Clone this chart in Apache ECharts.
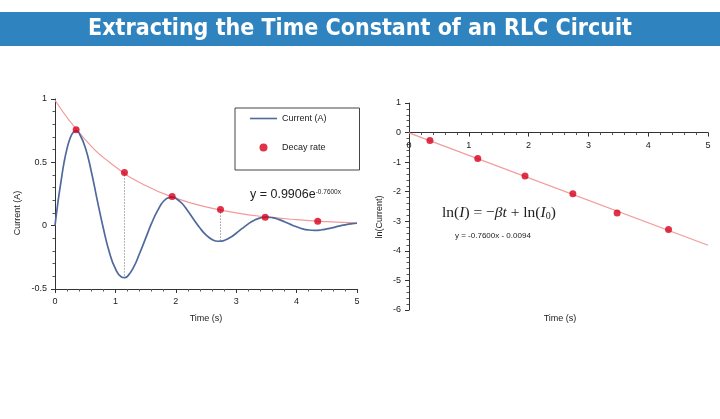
<!DOCTYPE html>
<html>
<head>
<meta charset="utf-8">
<script src="https://cdn.jsdelivr.net/npm/echarts@6/dist/echarts.min.js"></script>
<style>
  html, body { margin: 0; padding: 0; background: #fff; }
  #main { width: 720px; height: 419px; }
</style>
</head>
<body>
<div id="main"></div>
<script>
// values
var timeS = [0, 0.05, 0.1, 0.15, 0.2, 0.25, 0.3, 0.35, 0.4, 0.5, 0.6, 0.7, 0.8, 0.9, 1.0, 1.1, 1.15, 1.2, 1.3, 1.4, 1.5,
  1.6, 1.7, 1.8, 1.9, 1.95, 2.0, 2.1, 2.2, 2.3, 2.4, 2.5, 2.6, 2.7, 2.75, 2.8, 2.9, 3.0, 3.1, 3.2, 3.3, 3.4, 3.5,
  3.6, 3.7, 3.8, 3.9, 4.0, 4.1, 4.2, 4.3, 4.4, 4.5, 4.6, 4.7, 4.8, 4.9, 5.0];
var currentA = [0, 0.19, 0.35, 0.5, 0.61, 0.69, 0.735, 0.75, 0.73, 0.62, 0.43, 0.2, -0.02, -0.21, -0.34, -0.405, -0.41, -0.4, -0.33, -0.22, -0.1,
  0.02, 0.12, 0.195, 0.223, 0.225, 0.216, 0.177, 0.116, 0.047, -0.019, -0.073, -0.109, -0.123, -0.122, -0.117, -0.094, -0.06, -0.022, 0.014, 0.043, 0.061, 0.068,
  0.063, 0.05, 0.031, 0.01, -0.009, -0.025, -0.034, -0.037, -0.034, -0.026, -0.016, -0.004, 0.006, 0.014, 0.019];

var fitT = [0, 0.5, 1, 1.5, 2, 2.5, 3, 3.5, 4, 4.5, 5];
var fitI = [0.99, 0.68, 0.465, 0.317, 0.217, 0.148, 0.101, 0.069, 0.047, 0.032, 0.022];

var decayT = [0.35, 1.15, 1.94, 2.74, 3.48, 4.35];
var decayI = [0.757, 0.42, 0.23, 0.127, 0.066, 0.034];

var troughT = [1.15, 2.74];
var troughI = [-0.41, -0.123];

var lnT = [0.35, 1.15, 1.94, 2.74, 3.48, 4.34];
var lnI = [-0.27, -0.88, -1.47, -2.07, -2.72, -3.28];

var lnFitT = [0, 5];
var lnFitY = [-0.0094, -3.81];

function pairs(xs, ys) {
  return xs.map(function (x, i) { return [x, ys[i]]; });
}

var labelFont = 'Liberation Sans';
var axisColor = '#333';

function axisBase(extra) {
  var a = {
    type: 'value',
    axisLine: { show: true, onZero: false, lineStyle: { color: axisColor, width: 1 } },
    axisTick: { show: true, length: 4, lineStyle: { color: axisColor } },
    minorTick: { show: true, splitNumber: 5, length: 2.5, lineStyle: { color: '#555' } },
    splitLine: { show: false },
    axisLabel: { color: '#222', fontSize: 9, fontFamily: labelFont }
  };
  for (var k in extra) a[k] = extra[k];
  return a;
}

var chart = echarts.init(document.getElementById('main'));

// right grid: the time axis sits on ln = 0, about 177px above the bottom edge
var rightTop = 103, rightHeight = 207, lnMin = -6, lnMax = 1;
var zeroOffset = -rightHeight * (0 - lnMin) / (lnMax - lnMin);

var option = {
  backgroundColor: '#fff',
  animation: false,
  grid: [
    { left: 55, top: 99, width: 302, height: 190 },
    { left: 409, top: rightTop, width: 299, height: rightHeight }
  ],
  xAxis: [
    axisBase({ gridIndex: 0, min: 0, max: 5, interval: 1 }),
    axisBase({ gridIndex: 1, min: 0, max: 5, interval: 1, position: 'bottom', offset: zeroOffset })
  ],
  yAxis: [
    axisBase({ gridIndex: 0, min: -0.5, max: 1, interval: 0.5 }),
    axisBase({ gridIndex: 1, min: lnMin, max: lnMax, interval: 1 })
  ],
  legend: {
    data: [
      { name: 'Current (A)', icon: 'path://M0,0 L27,0 L27,1.6 L0,1.6 Z' },
      { name: 'Decay rate', icon: 'circle' }
    ],
    orient: 'vertical',
    left: 235,
    top: 108,
    padding: [6, 33, 18, 15],
    itemGap: 20,
    itemWidth: 27,
    itemHeight: 8,
    borderColor: '#444',
    borderWidth: 1,
    textStyle: { fontSize: 9, color: '#222', fontFamily: labelFont }
  },
  series: [
    {
      name: 'fit',
      type: 'line',
      xAxisIndex: 0, yAxisIndex: 0,
      data: pairs(fitT, fitI),
      smooth: true,
      symbol: 'none',
      lineStyle: { color: '#f39a9a', width: 1.2 },
      z: 2
    },
    {
      name: 'Current (A)',
      type: 'line',
      xAxisIndex: 0, yAxisIndex: 0,
      data: pairs(timeS, currentA),
      smooth: true,
      symbol: 'none',
      color: '#50699c',
      lineStyle: { color: '#50699c', width: 1.7 },
      z: 3
    },
    {
      name: 'drop1',
      type: 'line',
      xAxisIndex: 0, yAxisIndex: 0,
      data: [[troughT[0], decayI[1]], [troughT[0], troughI[0]]],
      symbol: 'none',
      lineStyle: { color: '#444', width: 0.8, type: [1, 2] },
      z: 2
    },
    {
      name: 'drop2',
      type: 'line',
      xAxisIndex: 0, yAxisIndex: 0,
      data: [[troughT[1], decayI[3]], [troughT[1], troughI[1]]],
      symbol: 'none',
      lineStyle: { color: '#444', width: 0.8, type: [1, 2] },
      z: 2
    },
    {
      name: 'Decay rate',
      type: 'scatter',
      xAxisIndex: 0, yAxisIndex: 0,
      data: pairs(decayT, decayI),
      symbolSize: 7,
      itemStyle: { color: '#d6001c' },
      z: 4
    },
    {
      name: 'lnfit',
      type: 'line',
      xAxisIndex: 1, yAxisIndex: 1,
      data: pairs(lnFitT, lnFitY),
      symbol: 'none',
      lineStyle: { color: '#f39a9a', width: 1.2 },
      z: 2
    },
    {
      name: 'lnpoints',
      type: 'scatter',
      xAxisIndex: 1, yAxisIndex: 1,
      data: pairs(lnT, lnI),
      symbolSize: 7,
      itemStyle: { color: '#d6001c' },
      z: 4
    }
  ],
  graphic: [
    {
      type: 'rect',
      shape: { x: 0, y: 12, width: 720, height: 34 },
      style: { fill: '#2f84bf' }
    },
    {
      type: 'text',
      x: 360, y: 29,
      style: {
        text: 'Extracting the Time Constant of an RLC Circuit',
        fill: '#fff',
        font: 'bold 23px "DejaVu Sans Condensed"',
        textAlign: 'center', textVerticalAlign: 'middle',
        align: 'center', verticalAlign: 'middle'
      }
    },
    {
      type: 'text',
      x: 18, y: 213, rotation: Math.PI / 2,
      style: {
        text: 'Current (A)', fill: '#222', font: '9px "Liberation Sans"',
        textAlign: 'center', textVerticalAlign: 'middle', align: 'center', verticalAlign: 'middle'
      }
    },
    {
      type: 'text',
      x: 380, y: 217, rotation: Math.PI / 2,
      style: {
        text: 'ln(Current)', fill: '#222', font: '9px "Liberation Sans"',
        textAlign: 'center', textVerticalAlign: 'middle', align: 'center', verticalAlign: 'middle'
      }
    },
    {
      type: 'text',
      x: 206, y: 319,
      style: {
        text: 'Time (s)', fill: '#222', font: '9px "Liberation Sans"',
        textAlign: 'center', textVerticalAlign: 'middle', align: 'center', verticalAlign: 'middle'
      }
    },
    {
      type: 'text',
      x: 560, y: 319,
      style: {
        text: 'Time (s)', fill: '#222', font: '9px "Liberation Sans"',
        textAlign: 'center', textVerticalAlign: 'middle', align: 'center', verticalAlign: 'middle'
      }
    },
    {
      type: 'text',
      x: 250, y: 195,
      style: {
        text: '{m|y = 0.9906e}{s|-0.7600x}',
        textVerticalAlign: 'middle', verticalAlign: 'middle',
        rich: {
          m: { fontSize: 12.5, fontFamily: labelFont, fill: '#222', verticalAlign: 'bottom' },
          s: { fontSize: 6.5, fontFamily: labelFont, fill: '#222', verticalAlign: 'top' }
        }
      }
    },
    {
      type: 'text',
      x: 442, y: 213,
      style: {
        text: '{n|ln(}{i|I}{n|) = −}{i|βt}{n| + ln(}{i|I}{b|0}{n|)}',
        textVerticalAlign: 'middle', verticalAlign: 'middle',
        rich: {
          n: { fontSize: 15.5, fontFamily: 'Liberation Serif', fill: '#222', verticalAlign: 'top' },
          i: { fontSize: 15.5, fontFamily: 'Liberation Serif', fontStyle: 'italic', fill: '#222', verticalAlign: 'top' },
          b: { fontSize: 10, fontFamily: 'Liberation Serif', fill: '#222', verticalAlign: 'bottom' }
        }
      }
    },
    {
      type: 'text',
      x: 455, y: 236,
      style: {
        text: 'y = -0.7600x - 0.0094', fill: '#222', font: '8px "Liberation Sans"',
        textVerticalAlign: 'middle', verticalAlign: 'middle'
      }
    }
  ]
};

chart.setOption(option);
</script>
</body>
</html>
